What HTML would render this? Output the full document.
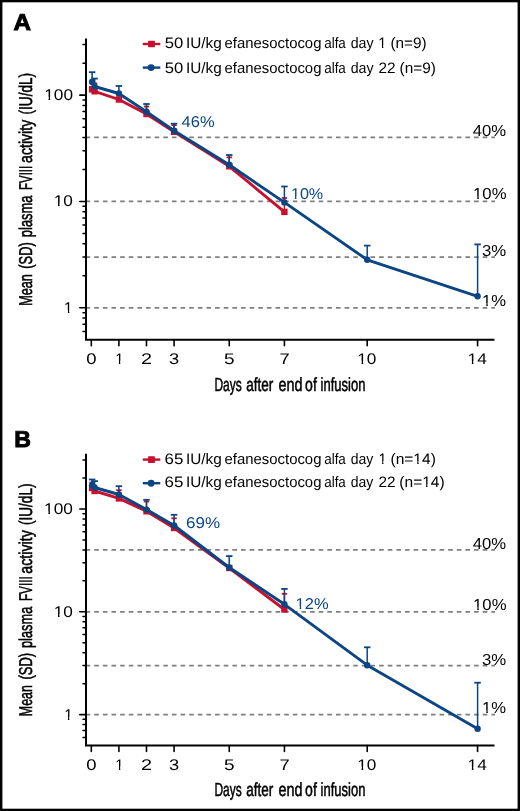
<!DOCTYPE html>
<html><head><meta charset="utf-8"><style>
html,body{margin:0;padding:0;background:#fff;}
svg{display:block;font-family:"Liberation Sans", sans-serif;will-change:transform;text-rendering:geometricPrecision;}
</style></head><body>
<svg width="520" height="811" viewBox="0 0 520 811">
<rect width="520" height="811" fill="#fff"/>
<defs><clipPath id="c_legA1_5"><path clip-rule="evenodd" d="M0 0H520V811H0ZM378.74 45.32H381.97V49.75H378.74ZM383.34 45.32H386.42V49.75H383.34Z"/></clipPath><clipPath id="c_yA100"><path clip-rule="evenodd" d="M0 0H520V811H0ZM44.78 96.74H48.56V101.20H44.78ZM50.17 96.74H53.78V101.20H50.17Z"/></clipPath><clipPath id="c_yA10"><path clip-rule="evenodd" d="M0 0H520V811H0ZM54.22 203.49H58.00V207.95H54.22ZM59.61 203.49H63.21V207.95H59.61Z"/></clipPath><clipPath id="c_yA1"><path clip-rule="evenodd" d="M0 0H520V811H0ZM64.57 310.24H67.90V314.70H64.57ZM69.32 310.24H72.50V314.70H69.32Z"/></clipPath><clipPath id="c_xA1"><path clip-rule="evenodd" d="M0 0H520V811H0ZM115.61 360.75H118.90V365.20H115.61ZM120.30 360.75H123.44V365.20H120.30Z"/></clipPath><clipPath id="c_xB1"><path clip-rule="evenodd" d="M0 0H520V811H0ZM115.61 766.55H118.90V771.00H115.61ZM120.30 766.55H123.44V771.00H120.30Z"/></clipPath><clipPath id="c_xA10"><path clip-rule="evenodd" d="M0 0H520V811H0ZM357.79 360.75H361.58V365.20H357.79ZM363.19 360.75H366.80V365.20H363.19Z"/></clipPath><clipPath id="c_xB10"><path clip-rule="evenodd" d="M0 0H520V811H0ZM357.79 766.55H361.58V771.00H357.79ZM363.19 766.55H366.80V771.00H363.19Z"/></clipPath><clipPath id="c_xA14"><path clip-rule="evenodd" d="M0 0H520V811H0ZM468.03 360.75H471.84V365.20H468.03ZM473.45 360.75H477.08V365.20H473.45Z"/></clipPath><clipPath id="c_xB14"><path clip-rule="evenodd" d="M0 0H520V811H0ZM468.03 766.55H471.84V771.00H468.03ZM473.45 766.55H477.08V771.00H473.45Z"/></clipPath><clipPath id="c_pA10"><path clip-rule="evenodd" d="M0 0H520V811H0ZM473.59 196.41H477.26V200.90H473.59ZM478.81 196.41H482.31V200.90H478.81Z"/></clipPath><clipPath id="c_pA1"><path clip-rule="evenodd" d="M0 0H520V811H0ZM482.63 303.01H486.28V307.50H482.63ZM487.83 303.01H491.32V307.50H487.83Z"/></clipPath><clipPath id="c_bA10"><path clip-rule="evenodd" d="M0 0H520V811H0ZM291.39 196.13H294.95V200.60H291.39ZM296.46 196.13H299.85V200.60H296.46Z"/></clipPath><clipPath id="c_legB1_5"><path clip-rule="evenodd" d="M0 0H520V811H0ZM378.85 460.97H382.08V465.40H378.85ZM383.45 460.97H386.53V465.40H383.45Z"/></clipPath><clipPath id="c_legB1_6"><path clip-rule="evenodd" d="M0 0H520V811H0ZM413.82 460.97H417.24V465.40H413.82ZM418.69 460.97H421.96V465.40H418.69Z"/></clipPath><clipPath id="c_legB2_6"><path clip-rule="evenodd" d="M0 0H520V811H0ZM422.70 484.27H426.12V488.70H422.70ZM427.57 484.27H430.82V488.70H427.57Z"/></clipPath><clipPath id="c_yB100"><path clip-rule="evenodd" d="M0 0H520V811H0ZM44.61 511.34H48.39V515.80H44.61ZM50.00 511.34H53.61V515.80H50.00Z"/></clipPath><clipPath id="c_yB10"><path clip-rule="evenodd" d="M0 0H520V811H0ZM54.16 614.34H57.94V618.80H54.16ZM59.54 614.34H63.14V618.80H59.54Z"/></clipPath><clipPath id="c_yB1"><path clip-rule="evenodd" d="M0 0H520V811H0ZM64.58 716.99H67.91V721.45H64.58ZM69.33 716.99H72.51V721.45H69.33Z"/></clipPath><clipPath id="c_pB10"><path clip-rule="evenodd" d="M0 0H520V811H0ZM473.59 606.81H477.26V611.30H473.59ZM478.81 606.81H482.31V611.30H478.81Z"/></clipPath><clipPath id="c_pB1"><path clip-rule="evenodd" d="M0 0H520V811H0ZM482.63 710.31H486.28V714.80H482.63ZM487.83 710.31H491.32V714.80H487.83Z"/></clipPath><clipPath id="c_bB12"><path clip-rule="evenodd" d="M0 0H520V811H0ZM296.05 606.13H299.69V610.60H296.05ZM301.23 606.13H304.69V610.60H301.23Z"/></clipPath></defs>
<rect x="0" y="0" width="2.4" height="811"/><rect x="0" y="0" width="520" height="2.3"/><rect x="517.6" y="0" width="2.4" height="811"/><rect x="0" y="808.7" width="520" height="2.3"/>
<line x1="142.8" y1="44.00" x2="160.3" y2="44.00" stroke="#c8102e" stroke-width="2.4"/>
<rect x="148.1" y="40.7" width="6.8" height="6.6" rx="0.5" fill="#c8102e"/>
<line x1="142.8" y1="67.60" x2="160.3" y2="67.60" stroke="#0b4583" stroke-width="2.4"/>
<circle cx="151.1" cy="67.6" r="3.45" fill="#0b4583"/>
<line x1="85.6" y1="137.45" x2="495" y2="137.45" stroke="#7f7f7f" stroke-width="1.7" stroke-dasharray="4.6 4.033"/>
<line x1="85.6" y1="201.47" x2="495" y2="201.47" stroke="#7f7f7f" stroke-width="1.7" stroke-dasharray="4.6 4.033"/>
<line x1="85.6" y1="257.07" x2="495" y2="257.07" stroke="#7f7f7f" stroke-width="1.7" stroke-dasharray="4.6 4.033"/>
<line x1="85.6" y1="307.80" x2="495" y2="307.80" stroke="#7f7f7f" stroke-width="1.7" stroke-dasharray="4.6 4.033"/>
<path d="M86 38.6 V339.7 H494.5" fill="none" stroke="#000" stroke-width="2"/>
<line x1="79.8" y1="307.80" x2="86" y2="307.80" stroke="#000" stroke-width="1.6" stroke-linecap="round"/>
<line x1="79.8" y1="201.47" x2="86" y2="201.47" stroke="#000" stroke-width="1.6" stroke-linecap="round"/>
<line x1="79.8" y1="95.14" x2="86" y2="95.14" stroke="#000" stroke-width="1.6" stroke-linecap="round"/>
<line x1="83.0" y1="331.39" x2="86" y2="331.39" stroke="#000" stroke-width="1.5" stroke-linecap="round"/>
<line x1="83.0" y1="324.27" x2="86" y2="324.27" stroke="#000" stroke-width="1.5" stroke-linecap="round"/>
<line x1="83.0" y1="318.10" x2="86" y2="318.10" stroke="#000" stroke-width="1.5" stroke-linecap="round"/>
<line x1="83.0" y1="312.67" x2="86" y2="312.67" stroke="#000" stroke-width="1.5" stroke-linecap="round"/>
<line x1="83.0" y1="275.79" x2="86" y2="275.79" stroke="#000" stroke-width="1.5" stroke-linecap="round"/>
<line x1="83.0" y1="257.07" x2="86" y2="257.07" stroke="#000" stroke-width="1.5" stroke-linecap="round"/>
<line x1="83.0" y1="243.78" x2="86" y2="243.78" stroke="#000" stroke-width="1.5" stroke-linecap="round"/>
<line x1="83.0" y1="233.48" x2="86" y2="233.48" stroke="#000" stroke-width="1.5" stroke-linecap="round"/>
<line x1="83.0" y1="225.06" x2="86" y2="225.06" stroke="#000" stroke-width="1.5" stroke-linecap="round"/>
<line x1="83.0" y1="217.94" x2="86" y2="217.94" stroke="#000" stroke-width="1.5" stroke-linecap="round"/>
<line x1="83.0" y1="211.77" x2="86" y2="211.77" stroke="#000" stroke-width="1.5" stroke-linecap="round"/>
<line x1="83.0" y1="206.34" x2="86" y2="206.34" stroke="#000" stroke-width="1.5" stroke-linecap="round"/>
<line x1="83.0" y1="169.46" x2="86" y2="169.46" stroke="#000" stroke-width="1.5" stroke-linecap="round"/>
<line x1="83.0" y1="150.74" x2="86" y2="150.74" stroke="#000" stroke-width="1.5" stroke-linecap="round"/>
<line x1="83.0" y1="137.45" x2="86" y2="137.45" stroke="#000" stroke-width="1.5" stroke-linecap="round"/>
<line x1="83.0" y1="127.15" x2="86" y2="127.15" stroke="#000" stroke-width="1.5" stroke-linecap="round"/>
<line x1="83.0" y1="118.73" x2="86" y2="118.73" stroke="#000" stroke-width="1.5" stroke-linecap="round"/>
<line x1="83.0" y1="111.61" x2="86" y2="111.61" stroke="#000" stroke-width="1.5" stroke-linecap="round"/>
<line x1="83.0" y1="105.44" x2="86" y2="105.44" stroke="#000" stroke-width="1.5" stroke-linecap="round"/>
<line x1="83.0" y1="100.01" x2="86" y2="100.01" stroke="#000" stroke-width="1.5" stroke-linecap="round"/>
<line x1="83.0" y1="63.13" x2="86" y2="63.13" stroke="#000" stroke-width="1.5" stroke-linecap="round"/>
<line x1="83.0" y1="44.41" x2="86" y2="44.41" stroke="#000" stroke-width="1.5" stroke-linecap="round"/>
<line x1="91.30" y1="339.71" x2="91.30" y2="345.71" stroke="#000" stroke-width="1.6" stroke-linecap="round"/>
<line x1="118.89" y1="339.71" x2="118.89" y2="345.71" stroke="#000" stroke-width="1.6" stroke-linecap="round"/>
<line x1="146.48" y1="339.71" x2="146.48" y2="345.71" stroke="#000" stroke-width="1.6" stroke-linecap="round"/>
<line x1="174.07" y1="339.71" x2="174.07" y2="345.71" stroke="#000" stroke-width="1.6" stroke-linecap="round"/>
<line x1="229.25" y1="339.71" x2="229.25" y2="345.71" stroke="#000" stroke-width="1.6" stroke-linecap="round"/>
<line x1="284.43" y1="339.71" x2="284.43" y2="345.71" stroke="#000" stroke-width="1.6" stroke-linecap="round"/>
<line x1="367.20" y1="339.71" x2="367.20" y2="345.71" stroke="#000" stroke-width="1.6" stroke-linecap="round"/>
<line x1="477.56" y1="339.71" x2="477.56" y2="345.71" stroke="#000" stroke-width="1.6" stroke-linecap="round"/>
<line x1="94.6" y1="91.3" x2="94.6" y2="83.4" stroke="#c8102e" stroke-width="1.5"/>
<line x1="91.91" y1="83.4" x2="97.31" y2="83.4" stroke="#c8102e" stroke-width="1.8"/>
<line x1="146.5" y1="114.0" x2="146.5" y2="106.5" stroke="#c8102e" stroke-width="1.5"/>
<line x1="143.78" y1="106.5" x2="149.18" y2="106.5" stroke="#c8102e" stroke-width="1.8"/>
<line x1="174.1" y1="131.8" x2="174.1" y2="125.2" stroke="#c8102e" stroke-width="1.5"/>
<line x1="171.37" y1="125.2" x2="176.77" y2="125.2" stroke="#c8102e" stroke-width="1.8"/>
<line x1="229.2" y1="166.3" x2="229.2" y2="157.3" stroke="#c8102e" stroke-width="1.5"/>
<line x1="226.55" y1="157.3" x2="231.95" y2="157.3" stroke="#c8102e" stroke-width="1.8"/>
<line x1="284.4" y1="211.9" x2="284.4" y2="198.0" stroke="#c8102e" stroke-width="1.5"/>
<line x1="281.73" y1="198.0" x2="287.13" y2="198.0" stroke="#c8102e" stroke-width="1.8"/>
<path d="M92.1 89.3 L94.6 91.3 L118.9 99.5 L146.5 114.0 L174.1 131.8 L229.2 166.3 L284.4 211.9" fill="none" stroke="#c8102e" stroke-width="2.9" stroke-linejoin="round"/>
<rect x="88.9" y="86.1" width="6.4" height="6.4" fill="#c8102e"/>
<rect x="91.4" y="88.1" width="6.4" height="6.4" fill="#c8102e"/>
<rect x="115.7" y="96.3" width="6.4" height="6.4" fill="#c8102e"/>
<rect x="143.3" y="110.8" width="6.4" height="6.4" fill="#c8102e"/>
<rect x="170.9" y="128.6" width="6.4" height="6.4" fill="#c8102e"/>
<rect x="226.1" y="163.1" width="6.4" height="6.4" fill="#c8102e"/>
<rect x="281.2" y="208.7" width="6.4" height="6.4" fill="#c8102e"/>
<line x1="92.1" y1="82.0" x2="92.1" y2="72.2" stroke="#0b4583" stroke-width="1.5"/>
<line x1="88.88" y1="72.2" x2="95.38" y2="72.2" stroke="#0b4583" stroke-width="1.8"/>
<line x1="94.6" y1="86.5" x2="94.6" y2="78.6" stroke="#0b4583" stroke-width="1.5"/>
<line x1="91.36" y1="78.6" x2="97.86" y2="78.6" stroke="#0b4583" stroke-width="1.8"/>
<line x1="118.9" y1="93.5" x2="118.9" y2="86.0" stroke="#0b4583" stroke-width="1.5"/>
<line x1="115.64" y1="86.0" x2="122.14" y2="86.0" stroke="#0b4583" stroke-width="1.8"/>
<line x1="146.5" y1="111.7" x2="146.5" y2="104.0" stroke="#0b4583" stroke-width="1.5"/>
<line x1="143.23" y1="104.0" x2="149.73" y2="104.0" stroke="#0b4583" stroke-width="1.8"/>
<line x1="174.1" y1="130.8" x2="174.1" y2="123.7" stroke="#0b4583" stroke-width="1.5"/>
<line x1="170.82" y1="123.7" x2="177.32" y2="123.7" stroke="#0b4583" stroke-width="1.8"/>
<line x1="229.2" y1="164.8" x2="229.2" y2="155.0" stroke="#0b4583" stroke-width="1.5"/>
<line x1="226.00" y1="155.0" x2="232.50" y2="155.0" stroke="#0b4583" stroke-width="1.8"/>
<line x1="284.4" y1="202.4" x2="284.4" y2="186.5" stroke="#0b4583" stroke-width="1.5"/>
<line x1="281.18" y1="186.5" x2="287.68" y2="186.5" stroke="#0b4583" stroke-width="1.8"/>
<line x1="367.2" y1="259.8" x2="367.2" y2="245.6" stroke="#0b4583" stroke-width="1.5"/>
<line x1="363.95" y1="245.6" x2="370.45" y2="245.6" stroke="#0b4583" stroke-width="1.8"/>
<line x1="477.6" y1="296.3" x2="477.6" y2="244.4" stroke="#0b4583" stroke-width="1.5"/>
<line x1="474.31" y1="244.4" x2="480.81" y2="244.4" stroke="#0b4583" stroke-width="1.8"/>
<path d="M92.1 82.0 L94.6 86.5 L118.9 93.5 L146.5 111.7 L174.1 130.8 L229.2 164.8 L284.4 202.4 L367.2 259.8 L477.6 296.3" fill="none" stroke="#0b4583" stroke-width="2.9" stroke-linejoin="round"/>
<circle cx="92.1" cy="82.0" r="3.2" fill="#0b4583"/>
<circle cx="94.6" cy="86.5" r="3.2" fill="#0b4583"/>
<circle cx="118.9" cy="93.5" r="3.2" fill="#0b4583"/>
<circle cx="146.5" cy="111.7" r="3.2" fill="#0b4583"/>
<circle cx="174.1" cy="130.8" r="3.2" fill="#0b4583"/>
<circle cx="229.2" cy="164.8" r="3.2" fill="#0b4583"/>
<circle cx="284.4" cy="202.4" r="3.2" fill="#0b4583"/>
<circle cx="367.2" cy="259.8" r="3.2" fill="#0b4583"/>
<circle cx="477.6" cy="296.3" r="3.2" fill="#0b4583"/>
<line x1="142.8" y1="459.60" x2="160.3" y2="459.60" stroke="#c8102e" stroke-width="2.4"/>
<rect x="148.1" y="456.3" width="6.8" height="6.6" rx="0.5" fill="#c8102e"/>
<line x1="142.8" y1="483.20" x2="160.3" y2="483.20" stroke="#0b4583" stroke-width="2.4"/>
<circle cx="151.1" cy="483.2" r="3.45" fill="#0b4583"/>
<line x1="85.6" y1="549.88" x2="495" y2="549.88" stroke="#7f7f7f" stroke-width="1.7" stroke-dasharray="4.6 4.033"/>
<line x1="85.6" y1="611.80" x2="495" y2="611.80" stroke="#7f7f7f" stroke-width="1.7" stroke-dasharray="4.6 4.033"/>
<line x1="85.6" y1="665.58" x2="495" y2="665.58" stroke="#7f7f7f" stroke-width="1.7" stroke-dasharray="4.6 4.033"/>
<line x1="85.6" y1="714.65" x2="495" y2="714.65" stroke="#7f7f7f" stroke-width="1.7" stroke-dasharray="4.6 4.033"/>
<path d="M86 453.8 V745.5 H494.5" fill="none" stroke="#000" stroke-width="2"/>
<line x1="79.8" y1="714.65" x2="86" y2="714.65" stroke="#000" stroke-width="1.6" stroke-linecap="round"/>
<line x1="79.8" y1="611.80" x2="86" y2="611.80" stroke="#000" stroke-width="1.6" stroke-linecap="round"/>
<line x1="79.8" y1="508.95" x2="86" y2="508.95" stroke="#000" stroke-width="1.6" stroke-linecap="round"/>
<line x1="83.0" y1="737.47" x2="86" y2="737.47" stroke="#000" stroke-width="1.5" stroke-linecap="round"/>
<line x1="83.0" y1="730.58" x2="86" y2="730.58" stroke="#000" stroke-width="1.5" stroke-linecap="round"/>
<line x1="83.0" y1="724.62" x2="86" y2="724.62" stroke="#000" stroke-width="1.5" stroke-linecap="round"/>
<line x1="83.0" y1="719.36" x2="86" y2="719.36" stroke="#000" stroke-width="1.5" stroke-linecap="round"/>
<line x1="83.0" y1="683.69" x2="86" y2="683.69" stroke="#000" stroke-width="1.5" stroke-linecap="round"/>
<line x1="83.0" y1="665.58" x2="86" y2="665.58" stroke="#000" stroke-width="1.5" stroke-linecap="round"/>
<line x1="83.0" y1="652.73" x2="86" y2="652.73" stroke="#000" stroke-width="1.5" stroke-linecap="round"/>
<line x1="83.0" y1="642.76" x2="86" y2="642.76" stroke="#000" stroke-width="1.5" stroke-linecap="round"/>
<line x1="83.0" y1="634.62" x2="86" y2="634.62" stroke="#000" stroke-width="1.5" stroke-linecap="round"/>
<line x1="83.0" y1="627.73" x2="86" y2="627.73" stroke="#000" stroke-width="1.5" stroke-linecap="round"/>
<line x1="83.0" y1="621.77" x2="86" y2="621.77" stroke="#000" stroke-width="1.5" stroke-linecap="round"/>
<line x1="83.0" y1="616.51" x2="86" y2="616.51" stroke="#000" stroke-width="1.5" stroke-linecap="round"/>
<line x1="83.0" y1="580.84" x2="86" y2="580.84" stroke="#000" stroke-width="1.5" stroke-linecap="round"/>
<line x1="83.0" y1="562.73" x2="86" y2="562.73" stroke="#000" stroke-width="1.5" stroke-linecap="round"/>
<line x1="83.0" y1="549.88" x2="86" y2="549.88" stroke="#000" stroke-width="1.5" stroke-linecap="round"/>
<line x1="83.0" y1="539.91" x2="86" y2="539.91" stroke="#000" stroke-width="1.5" stroke-linecap="round"/>
<line x1="83.0" y1="531.77" x2="86" y2="531.77" stroke="#000" stroke-width="1.5" stroke-linecap="round"/>
<line x1="83.0" y1="524.88" x2="86" y2="524.88" stroke="#000" stroke-width="1.5" stroke-linecap="round"/>
<line x1="83.0" y1="518.92" x2="86" y2="518.92" stroke="#000" stroke-width="1.5" stroke-linecap="round"/>
<line x1="83.0" y1="513.66" x2="86" y2="513.66" stroke="#000" stroke-width="1.5" stroke-linecap="round"/>
<line x1="83.0" y1="477.99" x2="86" y2="477.99" stroke="#000" stroke-width="1.5" stroke-linecap="round"/>
<line x1="83.0" y1="459.88" x2="86" y2="459.88" stroke="#000" stroke-width="1.5" stroke-linecap="round"/>
<line x1="91.30" y1="745.51" x2="91.30" y2="751.51" stroke="#000" stroke-width="1.6" stroke-linecap="round"/>
<line x1="118.89" y1="745.51" x2="118.89" y2="751.51" stroke="#000" stroke-width="1.6" stroke-linecap="round"/>
<line x1="146.48" y1="745.51" x2="146.48" y2="751.51" stroke="#000" stroke-width="1.6" stroke-linecap="round"/>
<line x1="174.07" y1="745.51" x2="174.07" y2="751.51" stroke="#000" stroke-width="1.6" stroke-linecap="round"/>
<line x1="229.25" y1="745.51" x2="229.25" y2="751.51" stroke="#000" stroke-width="1.6" stroke-linecap="round"/>
<line x1="284.43" y1="745.51" x2="284.43" y2="751.51" stroke="#000" stroke-width="1.6" stroke-linecap="round"/>
<line x1="367.20" y1="745.51" x2="367.20" y2="751.51" stroke="#000" stroke-width="1.6" stroke-linecap="round"/>
<line x1="477.56" y1="745.51" x2="477.56" y2="751.51" stroke="#000" stroke-width="1.6" stroke-linecap="round"/>
<line x1="92.1" y1="488.0" x2="92.1" y2="482.5" stroke="#c8102e" stroke-width="1.5"/>
<line x1="89.43" y1="482.5" x2="94.83" y2="482.5" stroke="#c8102e" stroke-width="1.8"/>
<line x1="118.9" y1="498.4" x2="118.9" y2="490.2" stroke="#c8102e" stroke-width="1.5"/>
<line x1="116.19" y1="490.2" x2="121.59" y2="490.2" stroke="#c8102e" stroke-width="1.8"/>
<line x1="146.5" y1="511.3" x2="146.5" y2="501.5" stroke="#c8102e" stroke-width="1.5"/>
<line x1="143.78" y1="501.5" x2="149.18" y2="501.5" stroke="#c8102e" stroke-width="1.8"/>
<line x1="174.1" y1="528.0" x2="174.1" y2="518.3" stroke="#c8102e" stroke-width="1.5"/>
<line x1="171.37" y1="518.3" x2="176.77" y2="518.3" stroke="#c8102e" stroke-width="1.8"/>
<line x1="284.4" y1="609.5" x2="284.4" y2="593.8" stroke="#c8102e" stroke-width="1.5"/>
<line x1="281.73" y1="593.8" x2="287.13" y2="593.8" stroke="#c8102e" stroke-width="1.8"/>
<path d="M92.1 488.0 L94.6 491.0 L118.9 498.4 L146.5 511.3 L174.1 528.0 L229.2 568.0 L284.4 609.5" fill="none" stroke="#c8102e" stroke-width="2.9" stroke-linejoin="round"/>
<rect x="88.9" y="484.8" width="6.4" height="6.4" fill="#c8102e"/>
<rect x="91.4" y="487.8" width="6.4" height="6.4" fill="#c8102e"/>
<rect x="115.7" y="495.2" width="6.4" height="6.4" fill="#c8102e"/>
<rect x="143.3" y="508.1" width="6.4" height="6.4" fill="#c8102e"/>
<rect x="170.9" y="524.8" width="6.4" height="6.4" fill="#c8102e"/>
<rect x="226.1" y="564.8" width="6.4" height="6.4" fill="#c8102e"/>
<rect x="281.2" y="606.3" width="6.4" height="6.4" fill="#c8102e"/>
<line x1="92.1" y1="485.2" x2="92.1" y2="479.5" stroke="#0b4583" stroke-width="1.5"/>
<line x1="88.88" y1="479.5" x2="95.38" y2="479.5" stroke="#0b4583" stroke-width="1.8"/>
<line x1="94.6" y1="487.5" x2="94.6" y2="481.1" stroke="#0b4583" stroke-width="1.5"/>
<line x1="91.36" y1="481.1" x2="97.86" y2="481.1" stroke="#0b4583" stroke-width="1.8"/>
<line x1="118.9" y1="494.5" x2="118.9" y2="486.2" stroke="#0b4583" stroke-width="1.5"/>
<line x1="115.64" y1="486.2" x2="122.14" y2="486.2" stroke="#0b4583" stroke-width="1.8"/>
<line x1="146.5" y1="509.6" x2="146.5" y2="499.8" stroke="#0b4583" stroke-width="1.5"/>
<line x1="143.23" y1="499.8" x2="149.73" y2="499.8" stroke="#0b4583" stroke-width="1.8"/>
<line x1="174.1" y1="525.5" x2="174.1" y2="514.8" stroke="#0b4583" stroke-width="1.5"/>
<line x1="170.82" y1="514.8" x2="177.32" y2="514.8" stroke="#0b4583" stroke-width="1.8"/>
<line x1="229.2" y1="567.5" x2="229.2" y2="556.1" stroke="#0b4583" stroke-width="1.5"/>
<line x1="226.00" y1="556.1" x2="232.50" y2="556.1" stroke="#0b4583" stroke-width="1.8"/>
<line x1="284.4" y1="604.3" x2="284.4" y2="588.9" stroke="#0b4583" stroke-width="1.5"/>
<line x1="281.18" y1="588.9" x2="287.68" y2="588.9" stroke="#0b4583" stroke-width="1.8"/>
<line x1="367.2" y1="665.2" x2="367.2" y2="647.3" stroke="#0b4583" stroke-width="1.5"/>
<line x1="363.95" y1="647.3" x2="370.45" y2="647.3" stroke="#0b4583" stroke-width="1.8"/>
<line x1="477.6" y1="728.8" x2="477.6" y2="682.7" stroke="#0b4583" stroke-width="1.5"/>
<line x1="474.31" y1="682.7" x2="480.81" y2="682.7" stroke="#0b4583" stroke-width="1.8"/>
<path d="M92.1 485.2 L94.6 487.5 L118.9 494.5 L146.5 509.6 L174.1 525.5 L229.2 567.5 L284.4 604.3 L367.2 665.2 L477.6 728.8" fill="none" stroke="#0b4583" stroke-width="2.9" stroke-linejoin="round"/>
<circle cx="92.1" cy="485.2" r="3.2" fill="#0b4583"/>
<circle cx="94.6" cy="487.5" r="3.2" fill="#0b4583"/>
<circle cx="118.9" cy="494.5" r="3.2" fill="#0b4583"/>
<circle cx="146.5" cy="509.6" r="3.2" fill="#0b4583"/>
<circle cx="174.1" cy="525.5" r="3.2" fill="#0b4583"/>
<circle cx="229.2" cy="567.5" r="3.2" fill="#0b4583"/>
<circle cx="284.4" cy="604.3" r="3.2" fill="#0b4583"/>
<circle cx="367.2" cy="665.2" r="3.2" fill="#0b4583"/>
<circle cx="477.6" cy="728.8" r="3.2" fill="#0b4583"/>
<text id="A" x="13.58" y="30.3" font-size="22.8" font-weight="bold" stroke="#000" stroke-width="0.9" textLength="17.51" lengthAdjust="spacingAndGlyphs">A</text>
<text id="legA1_0" x="164.66" y="48.25" font-size="15.1" textLength="18.48" lengthAdjust="spacingAndGlyphs">50</text>
<text id="legA1_1" x="185.95" y="48.25" font-size="15.1" textLength="35.74" lengthAdjust="spacingAndGlyphs">IU/kg</text>
<text id="legA1_2" x="224.58" y="48.25" font-size="15.1" textLength="96.84" lengthAdjust="spacingAndGlyphs">efanesoctocog</text>
<text id="legA1_3" x="324.24" y="48.25" font-size="15.1" textLength="21.58" lengthAdjust="spacingAndGlyphs">alfa</text>
<text id="legA1_4" x="350.67" y="48.25" font-size="15.1" textLength="22.88" lengthAdjust="spacingAndGlyphs">day</text>
<text id="legA1_5" x="378.31" y="48.25" font-size="15.1" textLength="8.17" lengthAdjust="spacingAndGlyphs" clip-path="url(#c_legA1_5)">1</text>
<text id="legA1_6" x="390.42" y="48.25" font-size="15.1" textLength="36.20" lengthAdjust="spacingAndGlyphs">(n=9)</text>
<text id="legA2_0" x="164.66" y="72.75" font-size="15.1" textLength="18.48" lengthAdjust="spacingAndGlyphs">50</text>
<text id="legA2_1" x="185.95" y="72.75" font-size="15.1" textLength="35.74" lengthAdjust="spacingAndGlyphs">IU/kg</text>
<text id="legA2_2" x="224.58" y="72.75" font-size="15.1" textLength="96.84" lengthAdjust="spacingAndGlyphs">efanesoctocog</text>
<text id="legA2_3" x="324.24" y="72.75" font-size="15.1" textLength="21.58" lengthAdjust="spacingAndGlyphs">alfa</text>
<text id="legA2_4" x="350.67" y="72.75" font-size="15.1" textLength="22.88" lengthAdjust="spacingAndGlyphs">day</text>
<text id="legA2_5" x="378.51" y="72.75" font-size="15.1" textLength="17.15" lengthAdjust="spacingAndGlyphs">22</text>
<text id="legA2_6" x="399.56" y="72.75" font-size="15.1" textLength="36.27" lengthAdjust="spacingAndGlyphs">(n=9)</text>
<text id="yA100" x="44.27" y="99.7" font-size="15.5" textLength="28.77" lengthAdjust="spacingAndGlyphs" clip-path="url(#c_yA100)">100</text>
<text id="yA10" x="53.72" y="206.45" font-size="15.5" textLength="19.13" lengthAdjust="spacingAndGlyphs" clip-path="url(#c_yA10)">10</text>
<text id="yA1" x="64.12" y="313.2" font-size="15.5" textLength="8.45" lengthAdjust="spacingAndGlyphs" clip-path="url(#c_yA1)">1</text>
<text id="xA0" x="86.22" y="363.7" font-size="15.4" textLength="10.29" lengthAdjust="spacingAndGlyphs">0</text>
<text id="xB0" x="86.22" y="769.5" font-size="15.4" textLength="10.29" lengthAdjust="spacingAndGlyphs">0</text>
<text id="xA1" x="115.17" y="363.7" font-size="15.4" textLength="8.34" lengthAdjust="spacingAndGlyphs" clip-path="url(#c_xA1)">1</text>
<text id="xB1" x="115.17" y="769.5" font-size="15.4" textLength="8.34" lengthAdjust="spacingAndGlyphs" clip-path="url(#c_xB1)">1</text>
<text id="xA2" x="140.92" y="363.7" font-size="15.4" textLength="11.03" lengthAdjust="spacingAndGlyphs">2</text>
<text id="xB2" x="140.92" y="769.5" font-size="15.4" textLength="11.03" lengthAdjust="spacingAndGlyphs">2</text>
<text id="xA3" x="169.10" y="363.7" font-size="15.4" textLength="10.19" lengthAdjust="spacingAndGlyphs">3</text>
<text id="xB3" x="169.10" y="769.5" font-size="15.4" textLength="10.19" lengthAdjust="spacingAndGlyphs">3</text>
<text id="xA5" x="223.94" y="363.7" font-size="15.4" textLength="10.60" lengthAdjust="spacingAndGlyphs">5</text>
<text id="xB5" x="223.94" y="769.5" font-size="15.4" textLength="10.60" lengthAdjust="spacingAndGlyphs">5</text>
<text id="xA7" x="279.52" y="363.7" font-size="15.4" textLength="10.20" lengthAdjust="spacingAndGlyphs">7</text>
<text id="xB7" x="279.52" y="769.5" font-size="15.4" textLength="10.20" lengthAdjust="spacingAndGlyphs">7</text>
<text id="xA10" x="357.28" y="363.7" font-size="15.4" textLength="19.19" lengthAdjust="spacingAndGlyphs" clip-path="url(#c_xA10)">10</text>
<text id="xB10" x="357.28" y="769.5" font-size="15.4" textLength="19.19" lengthAdjust="spacingAndGlyphs" clip-path="url(#c_xB10)">10</text>
<text id="xA14" x="467.52" y="363.7" font-size="15.4" textLength="19.28" lengthAdjust="spacingAndGlyphs" clip-path="url(#c_xA14)">14</text>
<text id="xB14" x="467.52" y="769.5" font-size="15.4" textLength="19.28" lengthAdjust="spacingAndGlyphs" clip-path="url(#c_xB14)">14</text>
<text id="xtA0" x="214.40" y="390.5" font-size="19.0" stroke="#000" stroke-width="0.55" textLength="27.23" lengthAdjust="spacingAndGlyphs">Days</text>
<text id="xtA1" x="246.33" y="390.5" font-size="19.0" stroke="#000" stroke-width="0.55" textLength="27.05" lengthAdjust="spacingAndGlyphs">after</text>
<text id="xtA2" x="278.39" y="390.5" font-size="19.0" stroke="#000" stroke-width="0.55" textLength="24.03" lengthAdjust="spacingAndGlyphs">end</text>
<text id="xtA3" x="305.07" y="390.5" font-size="19.0" stroke="#000" stroke-width="0.55" textLength="11.73" lengthAdjust="spacingAndGlyphs">of</text>
<text id="xtA4" x="320.61" y="390.5" font-size="19.0" stroke="#000" stroke-width="0.55" textLength="44.85" lengthAdjust="spacingAndGlyphs">infusion</text>
<text id="ytA0" transform="translate(32.05,0) rotate(-90)" x="-305.85" y="0" font-size="18.5" stroke="#000" stroke-width="0.55" textLength="31.55" lengthAdjust="spacingAndGlyphs">Mean</text>
<text id="ytA1" transform="translate(32.05,0) rotate(-90)" x="-268.69" y="0" font-size="18.5" stroke="#000" stroke-width="0.55" textLength="26.37" lengthAdjust="spacingAndGlyphs">(SD)</text>
<text id="ytA2" transform="translate(32.05,0) rotate(-90)" x="-237.14" y="0" font-size="18.5" stroke="#000" stroke-width="0.55" textLength="41.61" lengthAdjust="spacingAndGlyphs">plasma</text>
<text id="ytA3" transform="translate(32.05,0) rotate(-90)" x="-189.98" y="0" font-size="18.5" stroke="#000" stroke-width="0.55" textLength="24.22" lengthAdjust="spacingAndGlyphs">FVIII</text>
<text id="ytA4" transform="translate(32.05,0) rotate(-90)" x="-162.91" y="0" font-size="18.5" stroke="#000" stroke-width="0.55" textLength="43.09" lengthAdjust="spacingAndGlyphs">activity</text>
<text id="ytA5" transform="translate(32.05,0) rotate(-90)" x="-114.48" y="0" font-size="18.5" stroke="#000" stroke-width="0.55" textLength="41.60" lengthAdjust="spacingAndGlyphs">(IU/dL)</text>
<text id="pA40" x="472.83" y="135.9" font-size="15.9" textLength="33.38" lengthAdjust="spacingAndGlyphs">40%</text>
<text id="pA10" x="473.10" y="199.4" font-size="15.9" textLength="33.39" lengthAdjust="spacingAndGlyphs" clip-path="url(#c_pA10)">10%</text>
<text id="pA3" x="481.94" y="256.0" font-size="15.9" textLength="24.20" lengthAdjust="spacingAndGlyphs">3%</text>
<text id="pA1" x="482.14" y="306.0" font-size="15.9" textLength="24.02" lengthAdjust="spacingAndGlyphs" clip-path="url(#c_pA1)">1%</text>
<text id="bA46" x="181.62" y="126.5" font-size="15.6" fill="#0b4583" textLength="33.03" lengthAdjust="spacingAndGlyphs">46%</text>
<text id="bA10" x="290.92" y="199.1" font-size="15.6" fill="#0b4583" textLength="32.33" lengthAdjust="spacingAndGlyphs" clip-path="url(#c_bA10)">10%</text>
<text id="B" x="14.19" y="446.8" font-size="23.0" font-weight="bold" stroke="#000" stroke-width="0.9" textLength="16.70" lengthAdjust="spacingAndGlyphs">B</text>
<text id="legB1_0" x="164.60" y="463.9" font-size="15.1" textLength="18.82" lengthAdjust="spacingAndGlyphs">65</text>
<text id="legB1_1" x="185.95" y="463.9" font-size="15.1" textLength="35.74" lengthAdjust="spacingAndGlyphs">IU/kg</text>
<text id="legB1_2" x="224.58" y="463.9" font-size="15.1" textLength="96.84" lengthAdjust="spacingAndGlyphs">efanesoctocog</text>
<text id="legB1_3" x="324.24" y="463.9" font-size="15.1" textLength="21.58" lengthAdjust="spacingAndGlyphs">alfa</text>
<text id="legB1_4" x="350.64" y="463.9" font-size="15.1" textLength="22.59" lengthAdjust="spacingAndGlyphs">day</text>
<text id="legB1_5" x="378.42" y="463.9" font-size="15.1" textLength="8.17" lengthAdjust="spacingAndGlyphs" clip-path="url(#c_legB1_5)">1</text>
<text id="legB1_6" x="390.46" y="463.9" font-size="15.1" textLength="45.39" lengthAdjust="spacingAndGlyphs" clip-path="url(#c_legB1_6)">(n=14)</text>
<text id="legB2_0" x="164.60" y="487.2" font-size="15.1" textLength="18.82" lengthAdjust="spacingAndGlyphs">65</text>
<text id="legB2_1" x="185.95" y="487.2" font-size="15.1" textLength="35.74" lengthAdjust="spacingAndGlyphs">IU/kg</text>
<text id="legB2_2" x="224.58" y="487.2" font-size="15.1" textLength="96.84" lengthAdjust="spacingAndGlyphs">efanesoctocog</text>
<text id="legB2_3" x="324.24" y="487.2" font-size="15.1" textLength="21.58" lengthAdjust="spacingAndGlyphs">alfa</text>
<text id="legB2_4" x="350.64" y="487.2" font-size="15.1" textLength="22.59" lengthAdjust="spacingAndGlyphs">day</text>
<text id="legB2_5" x="378.57" y="487.2" font-size="15.1" textLength="17.13" lengthAdjust="spacingAndGlyphs">22</text>
<text id="legB2_6" x="399.39" y="487.2" font-size="15.1" textLength="45.30" lengthAdjust="spacingAndGlyphs" clip-path="url(#c_legB2_6)">(n=14)</text>
<text id="yB100" x="44.10" y="514.3" font-size="15.5" textLength="28.77" lengthAdjust="spacingAndGlyphs" clip-path="url(#c_yB100)">100</text>
<text id="yB10" x="53.66" y="617.3" font-size="15.5" textLength="19.12" lengthAdjust="spacingAndGlyphs" clip-path="url(#c_yB10)">10</text>
<text id="yB1" x="64.13" y="719.95" font-size="15.5" textLength="8.45" lengthAdjust="spacingAndGlyphs" clip-path="url(#c_yB1)">1</text>
<text id="xtB0" x="214.40" y="796.0" font-size="19.0" stroke="#000" stroke-width="0.55" textLength="27.23" lengthAdjust="spacingAndGlyphs">Days</text>
<text id="xtB1" x="246.33" y="796.0" font-size="19.0" stroke="#000" stroke-width="0.55" textLength="27.05" lengthAdjust="spacingAndGlyphs">after</text>
<text id="xtB2" x="278.39" y="796.0" font-size="19.0" stroke="#000" stroke-width="0.55" textLength="24.03" lengthAdjust="spacingAndGlyphs">end</text>
<text id="xtB3" x="305.07" y="796.0" font-size="19.0" stroke="#000" stroke-width="0.55" textLength="11.73" lengthAdjust="spacingAndGlyphs">of</text>
<text id="xtB4" x="320.61" y="796.0" font-size="19.0" stroke="#000" stroke-width="0.55" textLength="44.85" lengthAdjust="spacingAndGlyphs">infusion</text>
<text id="ytB0" transform="translate(32.05,0) rotate(-90)" x="-716.19" y="0" font-size="18.5" stroke="#000" stroke-width="0.55" textLength="31.07" lengthAdjust="spacingAndGlyphs">Mean</text>
<text id="ytB1" transform="translate(32.05,0) rotate(-90)" x="-679.55" y="0" font-size="18.5" stroke="#000" stroke-width="0.55" textLength="26.62" lengthAdjust="spacingAndGlyphs">(SD)</text>
<text id="ytB2" transform="translate(32.05,0) rotate(-90)" x="-648.03" y="0" font-size="18.5" stroke="#000" stroke-width="0.55" textLength="41.29" lengthAdjust="spacingAndGlyphs">plasma</text>
<text id="ytB3" transform="translate(32.05,0) rotate(-90)" x="-601.08" y="0" font-size="18.5" stroke="#000" stroke-width="0.55" textLength="24.83" lengthAdjust="spacingAndGlyphs">FVIII</text>
<text id="ytB4" transform="translate(32.05,0) rotate(-90)" x="-573.69" y="0" font-size="18.5" stroke="#000" stroke-width="0.55" textLength="43.47" lengthAdjust="spacingAndGlyphs">activity</text>
<text id="ytB5" transform="translate(32.05,0) rotate(-90)" x="-525.06" y="0" font-size="18.5" stroke="#000" stroke-width="0.55" textLength="41.53" lengthAdjust="spacingAndGlyphs">(IU/dL)</text>
<text id="pB40" x="472.83" y="548.8" font-size="15.9" textLength="33.38" lengthAdjust="spacingAndGlyphs">40%</text>
<text id="pB10" x="473.10" y="609.8" font-size="15.9" textLength="33.39" lengthAdjust="spacingAndGlyphs" clip-path="url(#c_pB10)">10%</text>
<text id="pB3" x="481.94" y="664.6" font-size="15.9" textLength="24.20" lengthAdjust="spacingAndGlyphs">3%</text>
<text id="pB1" x="482.14" y="713.3" font-size="15.9" textLength="24.02" lengthAdjust="spacingAndGlyphs" clip-path="url(#c_pB1)">1%</text>
<text id="bB69" x="186.00" y="527.8" font-size="15.6" fill="#0b4583" textLength="34.01" lengthAdjust="spacingAndGlyphs">69%</text>
<text id="bB12" x="295.57" y="609.1" font-size="15.6" fill="#0b4583" textLength="33.03" lengthAdjust="spacingAndGlyphs" clip-path="url(#c_bB12)">12%</text>
</svg></body></html>
